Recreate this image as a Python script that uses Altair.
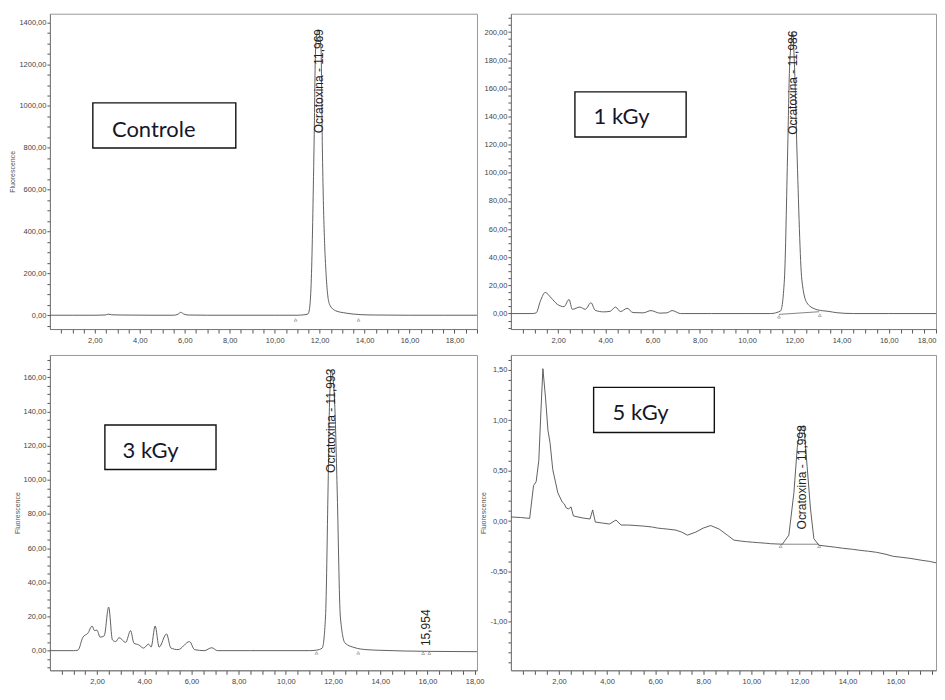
import altair as alt
import pandas as pd
import numpy as np

# ---------------- data ----------------
# Controle
t1 = [0.0, 1.0, 2.0, 2.45, 2.6, 2.75, 3.2, 4.5, 5.5, 5.7, 5.82, 5.95, 6.15, 7.0, 8.5, 10.0, 11.0, 11.3,
      11.48, 11.56, 11.63, 11.75, 11.82, 11.93, 12.06, 12.12, 12.30, 12.44, 12.7, 13.18, 13.8, 14.5, 16.0, 17.5, 19.0]
s1 = [0, 0, 0, 1, 5, 2, 1, 0, 0, 5, 14, 6, 1, 0, 0, 0, 0, 2,
      6, 40, 174, 803, 1273, 1365, 1273, 803, 174, 52, 22, 10, 3, 1, 0, 0, 0]

# 1 kGy
t2 = [0.0, 0.9, 1.07, 1.25, 1.45, 1.70, 1.97, 2.25, 2.46, 2.60, 2.92, 3.15, 3.39, 3.57, 3.92, 4.20, 4.43,
      4.64, 4.92, 5.17, 5.6, 5.93, 6.3, 6.6, 6.83, 7.18, 8.5, 10.0, 11.0, 11.42, 11.58, 11.72, 11.80, 11.93,
      12.01, 12.11, 12.32, 12.53, 12.88, 13.2, 13.43, 13.8, 14.5, 16.0, 18.0]
s2 = [0, 0, 0.5, 9, 15, 11.2, 6.5, 4.9, 10, 3, 4.6, 3, 7.7, 2.3, 1.2, 1.6, 4.6,
      1.4, 3.7, 0.7, 0.5, 2.1, 0.3, 0.5, 2.1, 0, 0, 0, 0, 1.9, 23.9, 116.8, 175, 199,
      175, 116.8, 23.9, 7.7, 3.2, 2.0, 1.6, 0.6, 0, 0, 0]

# 3 kGy
t3 = [0.0, 1.0, 1.19, 1.40, 1.61, 1.79, 1.89, 1.99, 2.13, 2.30, 2.49, 2.65, 2.79, 2.93, 3.21, 3.42, 3.56,
      3.76, 3.97, 4.18, 4.29, 4.46, 4.63, 4.94, 5.13, 5.43, 5.92, 6.13, 6.54, 6.86, 7.1, 8.5, 10.0, 11.0,
      11.3, 11.54, 11.68, 11.79, 11.85, 11.93, 12.07, 12.17, 12.31, 12.51, 12.93, 13.4, 14.0, 15.0, 16.0,
      17.0, 18.1]
s3 = [0, 0, 0.3, 7.9, 10.2, 14.4, 11.7, 12, 7.9, 8.6, 25.5, 6.3, 5.3, 7.6, 4.8, 11.7, 4.4,
      3.4, 1.5, 3.8, 2.1, 14.4, 2.1, 9.8, 1.5, 0.6, 5.3, 0.6, 0, 1.7, 0, 0, 0, 0,
      0.3, 1.5, 19.7, 96.4, 144.3, 164, 144.3, 96.4, 19.7, 4.4, 1.7, 0.6, 0.2, -0.2, -0.4,
      -0.5, -0.6]

# 5 kGy
t4 = [0.0, 0.4, 0.78, 0.94, 1.05, 1.16, 1.25, 1.33, 1.44, 1.54, 1.63, 1.74, 1.95, 2.13, 2.22, 2.30, 2.40,
      2.50, 2.60, 2.99, 3.29, 3.40, 3.51, 3.8, 4.10, 4.37, 4.58, 4.9, 5.20, 5.5, 5.89, 6.1, 6.3, 6.5, 6.86, 7.1,
      7.34, 7.69, 8.0, 8.31, 8.66, 9.0, 9.28, 9.6, 9.8, 10.04, 10.3, 10.6, 10.8, 11.29, 11.56, 11.77, 11.91,
      12.05, 12.19, 12.32, 12.46, 12.60, 12.81, 13.50, 13.8, 14.2, 14.5, 14.88, 15.2, 15.6, 15.9, 16.27, 16.6,
      17.1, 17.4, 17.8]
s4 = [0.04, 0.035, 0.026, 0.35, 0.39, 0.60, 1.10, 1.51, 1.22, 0.90, 0.77, 0.51, 0.28, 0.19, 0.17, 0.13, 0.12,
      0.14, 0.05, 0.03, 0.02, 0.11, -0.01, -0.02, -0.03, 0.01, -0.04, -0.04, -0.045, -0.05, -0.06, -0.07, -0.075,
      -0.08, -0.09, -0.11,
      -0.14, -0.11, -0.07, -0.045, -0.08, -0.14, -0.19, -0.20, -0.205, -0.21, -0.215, -0.22, -0.225, -0.23, -0.14,
      0.28, 0.73,
      0.94, 0.93, 0.54, 0.12, -0.175, -0.24, -0.26, -0.27, -0.28, -0.29, -0.30, -0.31, -0.33, -0.35, -0.36, -0.37,
      -0.39, -0.40, -0.42]

# sample names
names = ["Controle", "1 kGy", "3 kGy", "5 kGy"]

# peak labels (retention time, apex, text)
peak_t = [[11.95], [11.93], [11.93, 15.95], [12.1]]
peak_s = [[1368], [201], [165, 24.1], [0.95]]
peak_txt = [["Ocratoxina - 11,969"], ["Ocratoxina - 11,986"],
            ["Ocratoxina - 11,993", "15,954"], ["Ocratoxina - 11,998"]]

# integration start / end markers
tri_t = [[10.93, 13.73], [11.35, 13.08], [11.3, 13.07, 15.82, 16.08], [11.22, 12.82]]
tri_s = [[-22, -22], [-2.3, -1.2], [-1.3, -1.3, -1.5, -1.5], [-0.25, -0.25]]

# integration baselines
bl_t = [[], [11.35, 13.05], [], [11.24, 12.81]]
bl_s = [[], [-0.6, 1.3], [], [-0.23, -0.23]]

# annotation boxes (data units): x1, x2, y1, y2, text x, text baseline y
box_x1 = [1.91, 2.71, 2.33, 3.44]
box_x2 = [8.27, 7.42, 7.04, 8.46]
box_y1 = [799, 125.4, 106, 0.877]
box_y2 = [1015, 157.5, 132, 1.325]
txt_x = [2.76, 3.5, 3.08, 4.23]
txt_y = [852, 134.5, 113, 1.003]

# axis set-up
x_dom = [[0, 19], [0, 18], [0, 18.1], [0, 17.68]]
y_dom = [[-66, 1441], [-11, 213], [-11.5, 173], [-1.48, 1.646]]
y_minor = [50, 5, 5, 0.1]
y_major = [200, 20, 20, 0.5]
y_title = ["Fluorescence", None, "Fluorescence", "Fluorescence"]
widths = [428, 426, 428, 426]
heights = [316, 316, 316, 316]
interp = ["monotone", "monotone", "monotone", "linear"]

series_t = [t1, t2, t3, t4]
series_s = [s1, s2, s3, s4]

FONT = "Liberation Sans"
LINE = "#585858"


def lab_expr(step, skip_zero):
    cond = f"abs(datum.value/{step} - round(datum.value/{step})) < 0.001"
    if skip_zero:
        cond = "datum.value > 0.01 && " + cond
    return (f"({cond}) ? replace(replace(format(datum.value, '.2f'), '.', ','), '\u2212', '-') : ''")


def panel(i):
    xd, yd = x_dom[i], y_dom[i]
    xvals = [round(v, 3) for v in np.arange(0.5, xd[1] + 0.001, 0.5)]
    lo = np.ceil(yd[0] / y_minor[i]) * y_minor[i]
    yvals = [round(v, 4) for v in np.arange(lo, yd[1], y_minor[i])]
    xs = alt.Scale(domain=xd, nice=False, zero=False)
    ys = alt.Scale(domain=yd, nice=False, zero=False)
    xa = alt.Axis(values=xvals, labelExpr=lab_expr(2, True), title=None, tickSize=4,
                  labelPadding=3, labelOverlap=False, labelFlush=True)
    if y_title[i]:
        ya = alt.Axis(values=yvals, labelExpr=lab_expr(y_major[i], False), title=y_title[i],
                      tickSize=3, labelPadding=1, labelOverlap=False, titlePadding=3)
    else:
        ya = alt.Axis(values=yvals, labelExpr=lab_expr(y_major[i], False), title=None,
                      tickSize=3, labelPadding=1, labelOverlap=False)

    def X(f):
        return alt.X(f, type="quantitative", scale=xs, axis=xa)

    def Y(f):
        return alt.Y(f, type="quantitative", scale=ys, axis=ya)

    df = pd.DataFrame({"t": series_t[i], "s": series_s[i]})
    line = alt.Chart(df).mark_line(color=LINE, strokeWidth=0.95, interpolate=interp[i], clip=True).encode(
        x=X("t"), y=Y("s"), order="t:Q")
    layers = [line]

    if bl_t[i]:
        bdf = pd.DataFrame({"t": bl_t[i], "s": bl_s[i]})
        layers.append(alt.Chart(bdf).mark_line(color="#666", strokeWidth=0.8).encode(x=X("t"), y=Y("s")))

    tdf = pd.DataFrame({"t": tri_t[i], "s": tri_s[i]})
    layers.append(alt.Chart(tdf).mark_point(shape="triangle-up", size=9, filled=False,
                                            color="#555", strokeWidth=0.6).encode(x=X("t"), y=Y("s")))

    pdf = pd.DataFrame({"t": peak_t[i], "s": peak_s[i], "txt": peak_txt[i]})
    layers.append(alt.Chart(pdf).mark_text(angle=270, align="right", baseline="middle", font=FONT,
                                           fontSize=12, color="#1e1e1e").encode(
        x=X("t"), y=Y("s"), text="txt:N"))

    rdf = pd.DataFrame({"x1": [box_x1[i]], "x2": [box_x2[i]], "y1": [box_y1[i]], "y2": [box_y2[i]]})
    layers.append(alt.Chart(rdf).mark_rect(fill="white", stroke="#111", strokeWidth=1.4).encode(
        x=X("x1"), x2="x2:Q", y=Y("y1"), y2="y2:Q"))

    ndf = pd.DataFrame({"t": [txt_x[i]], "s": [txt_y[i]], "txt": [names[i]]})
    layers.append(alt.Chart(ndf).mark_text(align="left", baseline="alphabetic", font="Lato",
                                           fontSize=22, color="#16162a").encode(
        x=X("t"), y=Y("s"), text="txt:N"))

    return alt.layer(*layers).properties(width=widths[i], height=heights[i])


chart = alt.concat(panel(0), panel(1), panel(2), panel(3), columns=2,
                   spacing={"row": 26, "column": 34}, bounds="flush").properties(
    padding={"left": 0, "top": 4, "right": 0, "bottom": 0},
    background="white",
).configure_axis(
    labelFont=FONT, labelFontSize=7.5, labelColor="#444", tickColor="#555", domainColor="#777",
    titleFont=FONT, titleFontSize=7, titleColor="#555", titleFontWeight="normal", grid=False,
).configure_view(stroke="#999", strokeWidth=1)

chart.save("out.html", embed_options={"renderer": "svg", "actions": False})
